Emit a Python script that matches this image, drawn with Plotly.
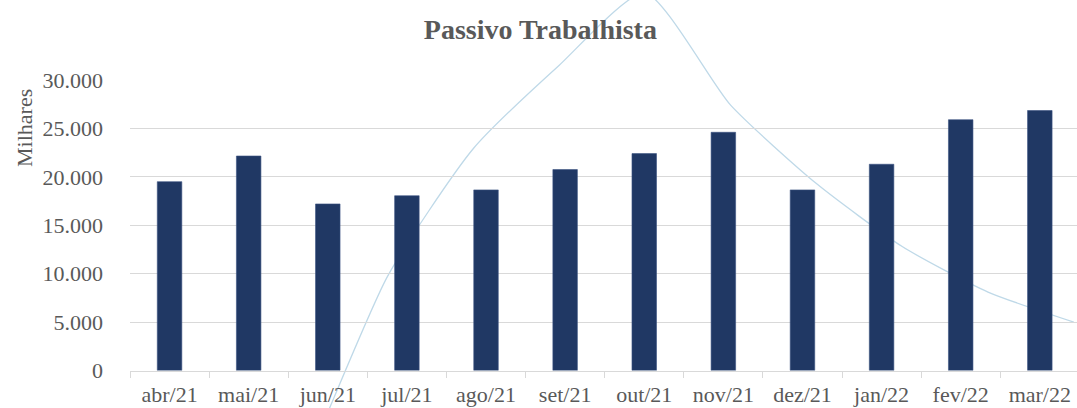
import plotly.graph_objects as go

months = ["abr/21", "mai/21", "jun/21", "jul/21", "ago/21", "set/21",
          "out/21", "nov/21", "dez/21", "jan/22", "fev/22", "mar/22"]
passivo = [19500, 22150, 17200, 18050, 18650, 20750,
           22400, 24600, 18650, 21300, 25900, 26850]
# faint curve sitting behind the bars (runs off the frame at both ends)
curva = [-42000, -27000, -10500, 9700, 22900, 31500,
         39000, 27400, 19300, 12800, 8100, 5000]
y_ticks = [0, 5000, 10000, 15000, 20000, 25000, 30000]
y_ticklabels = ["0", "5.000", "10.000", "15.000", "20.000", "25.000", "30.000"]

W, H = 1077, 408
FONT = "Liberation Serif"
GREY = "#595959"
GRID = "#D9D9D9"

# pixel geometry of the plot frame
left_px = 130
zero_px, top_px = 370.5, 80
y_dom = [(H - zero_px) / H, (H - top_px) / H]
px_per_unit = (zero_px - top_px) / 30000

fig = go.Figure()

# curve: full-figure hidden axes so it can run outside the bar frame
fig.add_trace(
    go.Scatter(
        x=months,
        y=curva,
        mode="lines",
        line=dict(color="#BFD9E8", width=1.3, shape="spline", smoothing=0.6),
        hoverinfo="skip",
        xaxis="x",
        yaxis="y",
    )
)

fig.add_trace(
    go.Bar(
        x=months,
        y=passivo,
        marker=dict(color="#203864", line=dict(color="#3A5282", width=0.6)),
        xaxis="x2",
        yaxis="y2",
        hovertemplate="%{x}: %{y:,.0f}<extra></extra>",
    )
)

step = 85.8  # px between curve points
fig.update_layout(
    width=W,
    height=H,
    margin=dict(l=0, r=0, t=0, b=0, autoexpand=False),
    paper_bgcolor="white",
    plot_bgcolor="rgba(0,0,0,0)",
    showlegend=False,
    bargap=0.69,
    font=dict(family=FONT, color=GREY, size=22),
    title=dict(
        text="<b>Passivo Trabalhista</b>",
        x=540.4 / W,
        xanchor="center",
        y=1 - 29.5 / H,
        yanchor="middle",
        font=dict(family=FONT, size=28, color=GREY),
    ),
    xaxis=dict(
        domain=[0, 1],
        type="category",
        range=[-left_px / step, (W - left_px) / step],
        visible=False,
        automargin=False,
        fixedrange=True,
    ),
    yaxis=dict(
        domain=[0, 1],
        range=[-(H - zero_px) / px_per_unit, zero_px / px_per_unit],
        visible=False,
        automargin=False,
        fixedrange=True,
    ),
    xaxis2=dict(
        domain=[left_px / W, 1],
        anchor="y2",
        type="category",
        range=[-0.5, 11.47],
        automargin=False,
        showgrid=False,
        showline=True,
        linecolor=GRID,
        linewidth=1.3,
        ticks="outside",
        tickson="boundaries",
        ticklen=6,
        tickwidth=1.3,
        tickcolor=GRID,
        tickfont=dict(family=FONT, size=22, color=GREY),
        ticklabelstandoff=4,
        zeroline=False,
    ),
    yaxis2=dict(
        domain=y_dom,
        anchor="x2",
        range=[0, 30000],
        automargin=False,
        tickvals=y_ticks,
        ticktext=y_ticklabels,
        showgrid=True,
        gridcolor=GRID,
        gridwidth=1.3,
        zeroline=False,
        ticks="",
        tickfont=dict(family=FONT, size=22, color=GREY),
        ticklabelstandoff=26,
    ),
    annotations=[
        dict(
            text="Milhares",
            xref="paper",
            yref="paper",
            x=24 / W,
            y=1 - 128 / H,
            xanchor="center",
            yanchor="middle",
            showarrow=False,
            textangle=-90,
            font=dict(family=FONT, size=22, color=GREY),
        )
    ],
)

# page body has a default 8px margin; drop it so the figure fills the window
fig.write_html(
    "out.html",
    config={"displayModeBar": False},
    post_script="document.body.style.margin='0';",
)
